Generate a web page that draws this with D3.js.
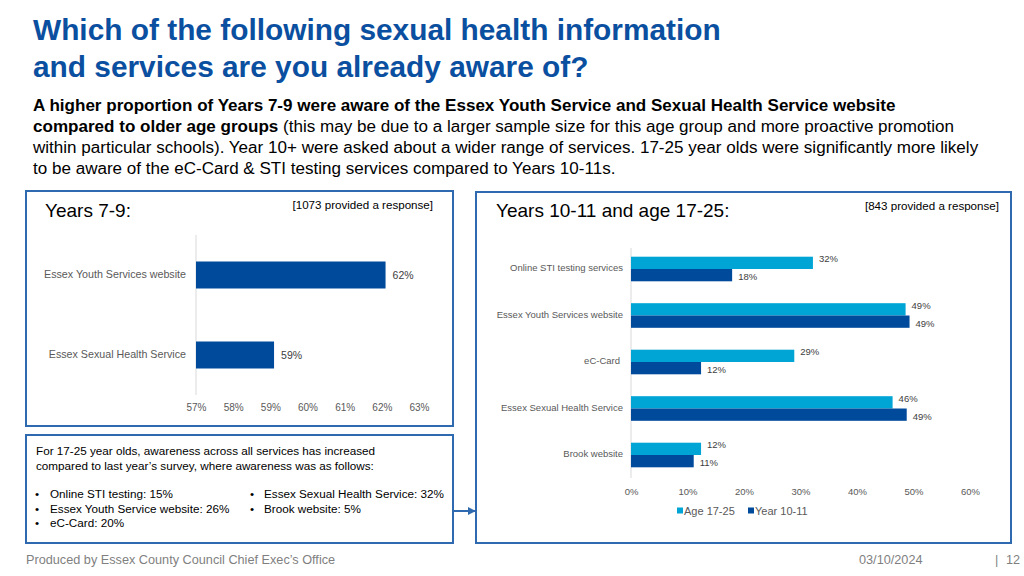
<!DOCTYPE html>
<html>
<head>
<meta charset="utf-8">
<script src="https://cdn.jsdelivr.net/npm/d3@7"></script>
<style>
html,body{margin:0;padding:0;background:#fff;}
svg{display:block;font-family:"Liberation Sans",Arial,sans-serif;}
</style>
</head>
<body>
<svg id="chart" width="1024" height="576"></svg>
<script>
// ---- data ----
const leftCategories = ["Essex Youth Services website", "Essex Sexual Health Service"];
const leftValues = [62.1, 59.1];
const leftTicks = [57, 58, 59, 60, 61, 62, 63];

const rightCategories = ["Online STI testing services", "Essex Youth Services website", "eC-Card", "Essex Sexual Health Service", "Brook website"];
const seriesNames = ["Age 17-25", "Year 10-11"];
const age1725 = [32.2, 48.6, 28.9, 46.3, 12.4];
const year1011 = [17.9, 49.3, 12.4, 48.8, 11.1];
const rightTicks = [0, 10, 20, 30, 40, 50, 60];

const titleLines = ["Which of the following sexual health information", "and services are you already aware of?"];
const noteLines = ["For 17-25 year olds, awareness across all services has increased", "compared to last year\u2019s survey, where awareness was as follows:"];
const noteBulletsA = ["Online STI testing: 15%", "Essex Youth Service website: 26%", "eC-Card: 20%"];
const noteBulletsB = ["Essex Sexual Health Service: 32%", "Brook website: 5%"];

const DARK = "#004a9c", LIGHT = "#00a5d6", BOX = "#2f69b0", TITLE = "#0b4fa0";
const svg = d3.select("#chart");

function fit(sel, w) {
  const node = sel.node();
  const fs = parseFloat(sel.attr("font-size"));
  const l = node.getComputedTextLength();
  if (l > 0) sel.attr("font-size", (fs * w / l).toFixed(2));
  return sel;
}

// ---- title ----
const t1 = svg.append("text").attr("x", 33).attr("y", 40)
  .attr("font-size", 28).attr("font-weight", "bold").attr("fill", TITLE).text(titleLines[0]);
fit(t1, 688);
svg.append("text").attr("x", 33).attr("y", 77)
  .attr("font-size", t1.attr("font-size")).attr("font-weight", "bold").attr("fill", TITLE).text(titleLines[1]);

// ---- body ----
const bodyY = [111, 132, 153, 174];
const b1 = svg.append("text").attr("x", 33).attr("y", bodyY[0]).attr("font-size", 16).attr("font-weight", "bold").attr("fill", "#000")
  .text("A higher proportion of Years 7-9 were aware of the Essex Youth Service and Sexual Health Service website");
fit(b1, 863);
const bfs = b1.attr("font-size");
const l2 = svg.append("text").attr("x", 33).attr("y", bodyY[1]).attr("font-size", bfs).attr("fill", "#000");
l2.append("tspan").attr("font-weight", "bold").text("compared to older age groups");
l2.append("tspan").text(" (this may be due to a larger sample size for this age group and more proactive promotion");
svg.append("text").attr("x", 33).attr("y", bodyY[2]).attr("font-size", bfs).attr("fill", "#000")
  .text("within particular schools). Year 10+ were asked about a wider range of services. 17-25 year olds were significantly more likely");
svg.append("text").attr("x", 33).attr("y", bodyY[3]).attr("font-size", bfs).attr("fill", "#000")
  .text("to be aware of the eC-Card & STI testing services compared to Years 10-11s.");

// ---- boxes ----
const boxes = [[26, 191, 427, 235], [26, 435, 427, 108], [476, 192, 535, 351]];
boxes.forEach(b => svg.append("rect").attr("x", b[0]).attr("y", b[1]).attr("width", b[2]).attr("height", b[3])
  .attr("fill", "none").attr("stroke", BOX).attr("stroke-width", 2));
svg.append("defs").append("marker").attr("id", "arr").attr("viewBox", "0 0 10 10").attr("refX", 9).attr("refY", 5)
  .attr("markerWidth", 4).attr("markerHeight", 4).attr("orient", "auto")
  .append("path").attr("d", "M0,0L10,5L0,10z").attr("fill", BOX);
svg.append("line").attr("x1", 454).attr("x2", 475).attr("y1", 511).attr("y2", 511)
  .attr("stroke", BOX).attr("stroke-width", 2).attr("marker-end", "url(#arr)");

// ---- left chart ----
svg.append("text").attr("x", 45).attr("y", 217).attr("font-size", 19).attr("fill", "#000").text("Years 7-9:");
svg.append("text").attr("x", 433).attr("y", 209).attr("text-anchor", "end").attr("font-size", 11.6).attr("fill", "#000").text("[1073 provided a response]");

const lx = d3.scaleLinear().domain([57, 63]).range([196, 419]);
const lpi = 1 - 27 / 80;
const ly = d3.scaleBand().domain(leftCategories).range([235, 395]).paddingInner(lpi).paddingOuter(lpi / 2);
svg.append("line").attr("x1", 196).attr("x2", 196).attr("y1", 235).attr("y2", 395).attr("stroke", "#d9d9d9");
const lg = svg.append("g");
lg.selectAll("rect").data(leftValues).join("rect")
  .attr("x", lx(57)).attr("y", (d, i) => ly(leftCategories[i]))
  .attr("width", d => lx(d) - lx(57)).attr("height", ly.bandwidth()).attr("fill", DARK);
lg.selectAll("text.val").data(leftValues).join("text").attr("class", "val")
  .attr("x", d => lx(d) + 7).attr("y", (d, i) => ly(leftCategories[i]) + ly.bandwidth() / 2)
  .attr("dy", "0.35em").attr("font-size", 10.5).attr("fill", "#404040").text(d => d3.format(".0f")(d) + "%");
lg.selectAll("text.cat").data(leftCategories).join("text").attr("class", "cat")
  .attr("x", 186).attr("y", d => ly(d) + ly.bandwidth() / 2 - 1).attr("dy", "0.35em").attr("text-anchor", "end")
  .attr("font-size", 10.7).attr("fill", "#595959").text(d => d);
const lax = svg.append("g").attr("transform", "translate(0,401)")
  .call(d3.axisBottom(lx).tickValues(leftTicks).tickSize(0).tickFormat(d => d + "%"));
lax.select(".domain").remove();
lax.selectAll("text").attr("font-size", 10).attr("fill", "#595959").attr("font-family", "Liberation Sans, Arial, sans-serif");

// ---- right chart ----
svg.append("text").attr("x", 496).attr("y", 217).attr("font-size", 19).attr("fill", "#000").text("Years 10-11 and age 17-25:");
svg.append("text").attr("x", 999).attr("y", 210).attr("text-anchor", "end").attr("font-size", 11.6).attr("fill", "#000").text("[843 provided a response]");

const rx = d3.scaleLinear().domain([0, 60]).range([631, 970]);
const rstep = 46.5, rbw = 24.6, rpi = 1 - rbw / rstep;
const ry = d3.scaleBand().domain(rightCategories).range([269 - rstep / 2, 455 + rstep / 2]).paddingInner(rpi).paddingOuter(rpi / 2);
const rs = d3.scaleBand().domain(seriesNames).range([0, ry.bandwidth()]);
const colors = d3.scaleOrdinal().domain(seriesNames).range([LIGHT, DARK]);
svg.append("line").attr("x1", 631).attr("x2", 631).attr("y1", 248).attr("y2", 478).attr("stroke", "#d9d9d9");
const rows = rightCategories.map((c, i) => seriesNames.map((s, j) => ({ cat: c, s, v: [age1725, year1011][j][i] }))).flat();
const rg = svg.append("g");
rg.selectAll("rect").data(rows).join("rect")
  .attr("x", rx(0)).attr("y", d => ry(d.cat) + rs(d.s))
  .attr("width", d => rx(d.v) - rx(0)).attr("height", rs.bandwidth()).attr("fill", d => colors(d.s));
rg.selectAll("text.val").data(rows).join("text").attr("class", "val")
  .attr("x", d => rx(d.v) + 6).attr("y", d => ry(d.cat) + rs(d.s) + rs.bandwidth() / 2 + (d.s === seriesNames[0] ? -4 : 2))
  .attr("dy", "0.35em").attr("font-size", 9.5).attr("fill", "#404040").text(d => d3.format(".0f")(d.v) + "%");
rg.selectAll("text.cat").data(rightCategories).join("text").attr("class", "cat")
  .attr("x", d => d === "eC-Card" ? 620 : 623).attr("y", d => ry(d) + ry.bandwidth() / 2 - 1).attr("dy", "0.35em").attr("text-anchor", "end")
  .attr("font-size", 9.5).attr("fill", "#595959").text(d => d);
const rax = svg.append("g").attr("transform", "translate(0,485)")
  .call(d3.axisBottom(rx).tickValues(rightTicks).tickSize(0).tickFormat(d => d + "%"));
rax.select(".domain").remove();
rax.selectAll("text").attr("font-size", 9.5).attr("fill", "#595959").attr("font-family", "Liberation Sans, Arial, sans-serif");

// legend
const legX = [677, 748];
seriesNames.forEach((s, i) => {
  svg.append("rect").attr("x", legX[i]).attr("y", 507.5).attr("width", 6).attr("height", 6).attr("fill", colors(s));
  svg.append("text").attr("x", legX[i] + 7).attr("y", 511).attr("dy", "0.35em").attr("font-size", 11).attr("fill", "#595959").text(s);
});

// ---- note box ----
noteLines.forEach((t, i) => svg.append("text").attr("x", 36).attr("y", 455 + i * 15).attr("font-size", 11.7).attr("fill", "#000").text(t));
noteBulletsA.forEach((t, i) => {
  svg.append("text").attr("x", 35).attr("y", 498 + i * 14.5).attr("font-size", 11.7).attr("fill", "#000").text("\u2022");
  svg.append("text").attr("x", 50).attr("y", 498 + i * 14.5).attr("font-size", 11.7).attr("fill", "#000").text(t);
});
noteBulletsB.forEach((t, i) => {
  svg.append("text").attr("x", 250).attr("y", 498 + i * 14.5).attr("font-size", 11.7).attr("fill", "#000").text("\u2022");
  svg.append("text").attr("x", 264).attr("y", 498 + i * 14.5).attr("font-size", 11.7).attr("fill", "#000").text(t);
});

// ---- footer ----
svg.append("text").attr("x", 26).attr("y", 564).attr("font-size", 12.7).attr("fill", "#7f7f7f").text("Produced by Essex County Council Chief Exec\u2019s Office");
svg.append("text").attr("x", 859).attr("y", 564).attr("font-size", 12.7).attr("fill", "#7f7f7f").text("03/10/2024");
svg.append("text").attr("x", 995).attr("y", 564).attr("font-size", 12.7).attr("fill", "#7f7f7f").text("|");
svg.append("text").attr("x", 1006).attr("y", 564).attr("font-size", 12.7).attr("fill", "#7f7f7f").text("12");
</script>
</body>
</html>
